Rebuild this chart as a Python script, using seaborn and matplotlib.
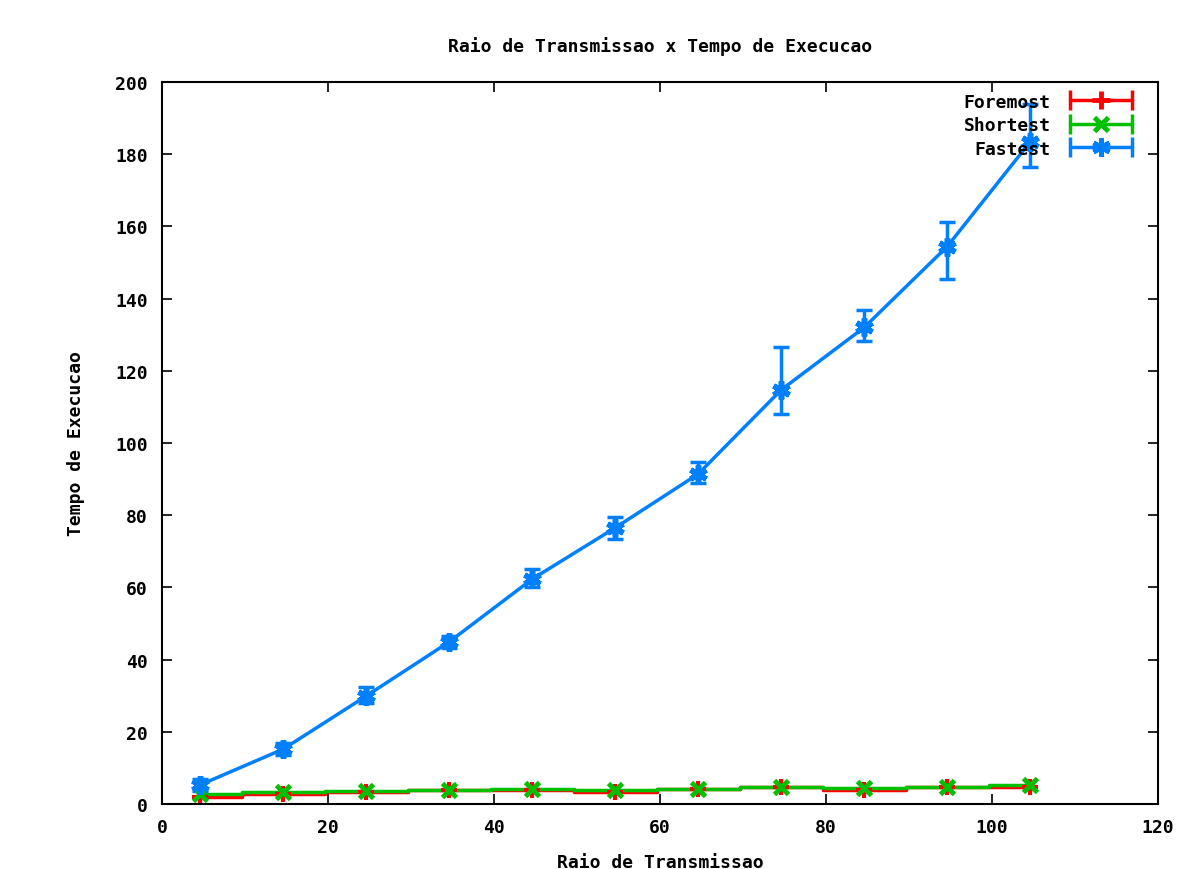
import numpy as np
import seaborn as sns
import matplotlib.pyplot as plt
from matplotlib.lines import Line2D
from matplotlib.legend_handler import HandlerLine2D, HandlerTuple

# Raio de transmissao (x) and tempo medio de execucao per algoritmo
raio = [4.6, 14.6, 24.6, 34.6, 44.6, 54.6, 64.6, 74.6, 84.6, 94.6, 104.6]

foremost = [2.0, 2.8, 3.2, 3.9, 4.0, 3.4, 4.2, 4.6, 3.9, 4.6, 4.6]
foremost_err = [1.2, 1.0, 1.0, 1.0, 1.0, 1.0, 1.0, 1.0, 1.0, 1.0, 1.0]

shortest = [2.8, 3.2, 3.7, 3.9, 4.2, 3.9, 4.2, 4.6, 4.3, 4.6, 5.3]
shortest_err = [0.8, 0.8, 0.8, 0.8, 0.8, 0.8, 0.8, 0.8, 0.8, 0.8, 0.8]

fastest = [5.3, 15.2, 29.9, 44.9, 62.3, 76.5, 91.4, 114.7, 132.0, 154.4, 183.4]
fastest_lo = [3.6, 13.6, 28.0, 43.3, 60.0, 73.4, 89.0, 108.0, 128.3, 145.4, 176.5]
fastest_hi = [7.0, 16.8, 32.5, 46.5, 65.0, 79.5, 94.7, 126.6, 136.8, 161.2, 194.0]

sns.set_style("ticks")
plt.rcParams['font.family'] = ['DejaVu Sans Mono', 'DejaVu Sans']
plt.rcParams['font.weight'] = 'bold'
plt.rcParams['text.color'] = 'black'
plt.rcParams['axes.labelcolor'] = 'black'

fig = plt.figure(figsize=(12, 8.7), dpi=100)
ax = fig.add_axes([0.135, 0.0747, 0.83, 0.83])

red, green, blue = "#ff0000", "#00c000", "#0080ff"

# red and green drawn as histeps, blue as plain line
sns.lineplot(x=raio, y=foremost, color=red, lw=2.5, drawstyle="steps-mid", ax=ax, legend=False)
sns.lineplot(x=raio, y=shortest, color=green, lw=2.5, drawstyle="steps-mid", ax=ax, legend=False)
sns.lineplot(x=raio, y=fastest, color=blue, lw=2.5, ax=ax, legend=False)

ax.errorbar(raio, foremost, yerr=foremost_err, fmt='none', ecolor=red, elinewidth=2.5, capsize=0)
ax.errorbar(raio, shortest, yerr=shortest_err, fmt='none', ecolor=green, elinewidth=2.5, capsize=0)
f = np.array(fastest)
ax.errorbar(raio, fastest, yerr=[f - np.array(fastest_lo), np.array(fastest_hi) - f],
            fmt='none', ecolor=blue, elinewidth=2.5, capsize=6, capthick=2.5)

ax.plot(raio, foremost, ls='none', marker='+', ms=12, mew=3, color=red)
ax.plot(raio, shortest, ls='none', marker='x', ms=10, mew=3.5, color=green)
ax.plot(raio, fastest, ls='none', marker=(6, 2, 0), ms=13, mew=4, color=blue)

# legend samples in gnuplot style: line with end caps and marker in the middle
handles, hmap = [], {}
for c, m, ms in [(red, '+', 13), (green, 'x', 10), (blue, (6, 2, 0), 13)]:
    caps = Line2D([], [], color=c, lw=2.5, marker='|', ms=14, mew=2.5)
    mid = Line2D([], [], color=c, ls='none', marker=m, ms=ms, mew=3.5)
    hmap[caps] = HandlerLine2D(numpoints=2)
    hmap[mid] = HandlerLine2D(numpoints=1)
    handles.append((caps, mid))
hmap[tuple] = HandlerTuple(ndivide=1, pad=0)
ax.legend(handles, ["Foremost", "Shortest", "Fastest"], handler_map=hmap,
          loc="upper right", bbox_to_anchor=(0.99, 1.0), markerfirst=False,
          frameon=False, fontsize=13, handlelength=4.0, borderaxespad=0.3,
          borderpad=0.3, labelspacing=0.3, handletextpad=0.8)

ax.set_xlim(0, 120)
ax.set_ylim(0, 200)
ax.set_xticks(range(0, 121, 20))
ax.set_yticks(range(0, 201, 20))
ax.tick_params(direction='in', length=7, width=1.2, top=True, right=True,
               labelsize=13, pad=10, colors='black')
for s in ax.spines.values():
    s.set_linewidth(1.5)
    s.set_color('black')

ax.set_title("Raio de Transmissao x Tempo de Execucao", fontsize=13, fontweight='bold',
             pad=22, color='black')
ax.set_xlabel("Raio de Transmissao", fontsize=13, fontweight='bold', labelpad=12)
ax.set_ylabel("Tempo de Execucao", fontsize=13, fontweight='bold', labelpad=22)

fig.savefig("out.png", dpi=100)
